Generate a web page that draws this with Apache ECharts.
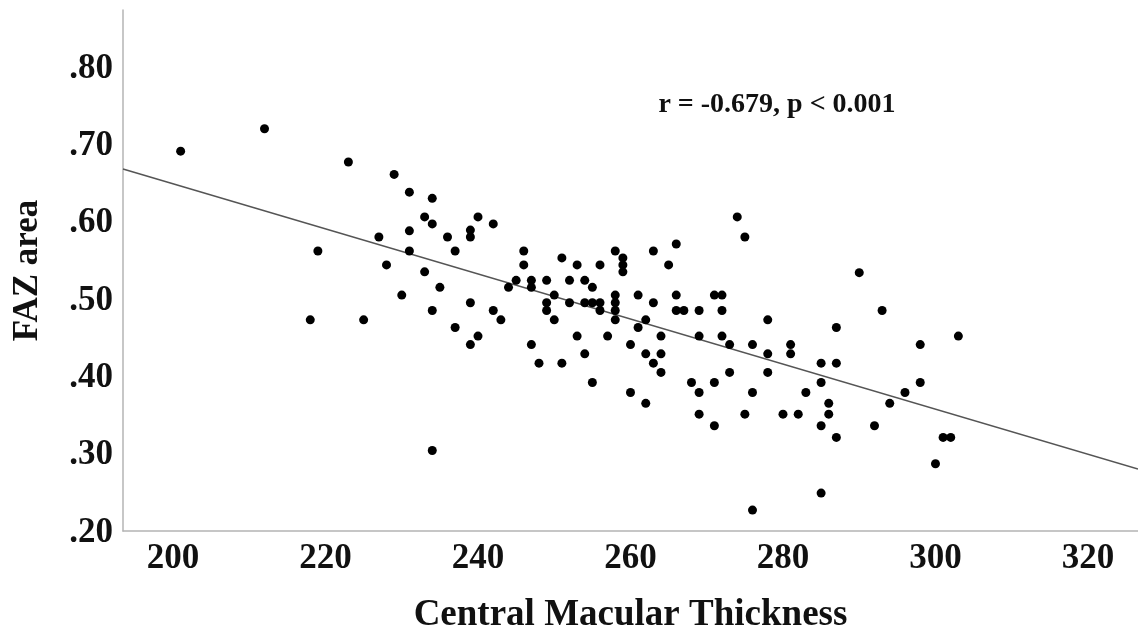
<!DOCTYPE html>
<html lang="en">
<head>
    <meta charset="UTF-8">
    <title>FAZ area vs Central Macular Thickness</title>
    <style>
        html, body {margin: 0; padding: 0; background: #fff;}
        #chart {width: 1138px; height: 637px;}
    </style>
</head>
<body>
    <div id="chart"></div>

    <script src="https://cdn.jsdelivr.net/npm/echarts@6/dist/echarts.min.js"></script>
    <script>

// central macular thickness (x) for each eye
const cmt = [
    201, 212, 223, 229, 231, 234, 233, 234, 231, 227, 231, 219, 228, 233, 230, 218, 225, 234,
    240, 242, 239, 239, 236, 237, 235, 239, 242, 243, 246, 246, 244, 245, 247, 247, 249, 250,
    249, 249, 250, 251, 253, 252, 252, 254, 255, 254, 255, 256, 256, 256, 258, 259, 259, 259,
    258, 258, 258, 258, 261, 263, 263, 265, 266, 266, 266, 267, 269, 274, 275, 290, 271, 272,
    272, 293, 278, 234, 237, 240, 239, 247, 248, 251, 253, 254, 255, 257, 260, 260, 261, 262,
    262, 262, 263, 264, 264, 264, 268, 269, 269, 269, 272, 273, 276, 278, 281, 281, 287, 285,
    287, 285, 273, 278, 271, 276, 283, 286, 286, 275, 280, 282, 271, 285, 287, 292, 294, 296,
    298, 298, 303, 301, 302, 300, 285, 276
];

// FAZ area (y), same order as cmt
const faz = [
    .688, .717, .674, .658, .635, .627, .603, .594, .585, .577, .559, .559, .541, .532, .502, .470, .470, .482,
    .603, .594, .586, .577, .577, .559, .512, .492, .482, .470, .559, .541, .512, .521, .521, .512, .521, .502,
    .492, .482, .470, .550, .541, .521, .492, .521, .512, .492, .492, .492, .541, .482, .559, .550, .541, .532,
    .502, .492, .482, .470, .502, .492, .559, .541, .568, .502, .482, .482, .482, .603, .577, .531, .502, .502,
    .482, .482, .470, .301, .460, .449, .438, .438, .414, .414, .449, .426, .389, .449, .438, .376, .460, .470,
    .426, .362, .414, .449, .426, .402, .389, .449, .376, .348, .449, .438, .438, .426, .438, .426, .460, .414,
    .414, .389, .402, .402, .389, .376, .376, .362, .348, .348, .348, .348, .333, .333, .318, .333, .362, .376,
    .389, .438, .449, .318, .318, .284, .246, .224
];

// fitted line end points
const fitX = [193.44, 326.56];
const fitY = [0.665, 0.277];

const xTicks = [200, 220, 240, 260, 280, 300, 320];
const yTicks = [0.2, 0.3, 0.4, 0.5, 0.6, 0.7, 0.8];

const serif = '"Liberation Serif", "DejaVu Serif", serif';

const chart = echarts.init(document.getElementById('chart'));

chart.setOption({
    animation: false,
    grid: {left: 123, right: 0, top: 10, bottom: 106, outerBoundsMode: 'none'},
    xAxis: {
        type: 'value',
        min: 193.44,
        max: 326.56,
        name: 'Central Macular Thickness',
        nameLocation: 'middle',
        nameGap: 66,
        nameTextStyle: {fontFamily: serif, fontWeight: 'bold', fontSize: 37, color: '#111'},
        axisLine: {show: true, lineStyle: {color: '#b4b4b4', width: 1.5}},
        axisTick: {show: false},
        splitLine: {show: false},
        axisLabel: {
            customValues: xTicks,
            margin: 10,
            fontFamily: serif, fontWeight: 'bold', fontSize: 35, color: '#111'
        }
    },
    yAxis: {
        type: 'value',
        min: 0.197,
        max: 0.8705,
        name: 'FAZ area',
        nameLocation: 'middle',
        nameGap: 78,
        nameRotate: 90,
        nameTextStyle: {fontFamily: serif, fontWeight: 'bold', fontSize: 35, color: '#111'},
        axisLine: {show: true, lineStyle: {color: '#b4b4b4', width: 1.5}},
        axisTick: {show: false},
        splitLine: {show: false},
        axisLabel: {
            customValues: yTicks,
            margin: 10,
            formatter: v => '{t|' + v.toFixed(2).replace(/^0/, '') + '}',
            rich: {
                t: {
                    fontFamily: serif, fontWeight: 'bold', fontSize: 35, color: '#111',
                    padding: [8, 0, 0, 0]
                }
            }
        }
    },
    graphic: [{
        type: 'text',
        x: 777,
        y: 105,
        style: {
            text: 'r = -0.679, p < 0.001',
            fontFamily: serif, fontWeight: 'bold', fontSize: 28,
            fill: '#111',
            align: 'center',
            verticalAlign: 'middle'
        }
    }],
    series: [
        {
            type: 'line',
            data: fitX.map((x, i) => [x, fitY[i]]),
            symbol: 'none',
            lineStyle: {color: '#555', width: 1.5},
            z: 1
        },
        {
            type: 'scatter',
            data: cmt.map((x, i) => [x, faz[i]]),
            symbolSize: 9,
            itemStyle: {color: '#000', opacity: 1},
            z: 2
        }
    ]
});
    </script>
</body>
</html>
